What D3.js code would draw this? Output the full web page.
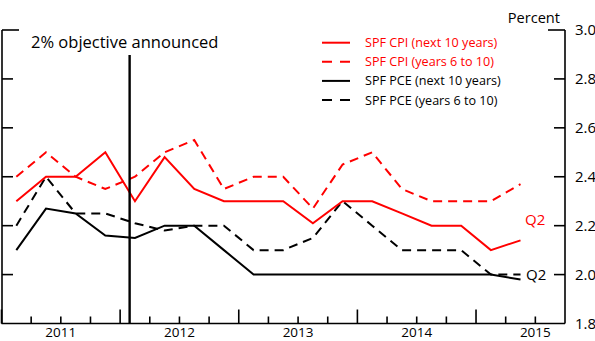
<!DOCTYPE html>
<html>
<head>
<meta charset="utf-8">
<script src="https://cdn.jsdelivr.net/npm/d3@7"></script>
<style>
html,body{margin:0;padding:0;background:#fff;}
svg{display:block;}
text{font-family:"Open Sans","Noto Sans",sans-serif;}
</style>
</head>
<body>
<svg id="chart" width="595" height="341"></svg>
<script>
// ---- data ----
const quarters = ["2011Q1","2011Q2","2011Q3","2011Q4","2012Q1","2012Q2","2012Q3","2012Q4",
  "2013Q1","2013Q2","2013Q3","2013Q4","2014Q1","2014Q2","2014Q3","2014Q4","2015Q1","2015Q2"];
const cpiNext10   = [2.3,2.4,2.4,2.5,2.3,2.48,2.35,2.3,2.3,2.3,2.21,2.3,2.3,2.25,2.2,2.2,2.1,2.14];
const cpi6to10    = [2.4,2.5,2.4,2.35,2.4,2.5,2.55,2.35,2.4,2.4,2.27,2.45,2.5,2.35,2.3,2.3,2.3,2.37];
const pceNext10   = [2.1,2.27,2.25,2.16,2.15,2.2,2.2,2.1,2.0,2.0,2.0,2.0,2.0,2.0,2.0,2.0,2.0,1.98];
const pce6to10    = [2.2,2.4,2.25,2.25,2.21,2.18,2.2,2.2,2.1,2.1,2.15,2.3,2.2,2.1,2.1,2.1,2.0,2.0];
const yTicks = [1.8,2.0,2.2,2.4,2.6,2.8,3.0];
const yearLabels = [2011,2012,2013,2014,2015];
const announcement = 2012.08; // Jan 25, 2012
const series = [
  {name:"SPF PCE (next 10 years)", values:pceNext10, color:"#000", dash:null},
  {name:"SPF PCE (years 6 to 10)", values:pce6to10, color:"#000", dash:"9,6"},
  {name:"SPF CPI (years 6 to 10)", values:cpi6to10, color:"#ff0000", dash:"9,6"},
  {name:"SPF CPI (next 10 years)", values:cpiNext10, color:"#ff0000", dash:null}
];
const legendOrder = [3,2,0,1];

// ---- layout ----
const svg = d3.select("#chart");
const xL = 1.5, xR = 565, yT = 30, yB = 323.5;
const x = d3.scaleLinear().domain([2011, 2015.75]).range([xL, xR]);
const y = d3.scaleLinear().domain([1.8, 3.0]).range([yB, yT]);
const qToNum = q => +q.slice(0,4) + (+q.slice(5) - 0.5) / 4;

// axes lines
const ax = svg.append("g").attr("stroke","#000").attr("stroke-width",1.6).attr("fill","none");
ax.append("line").attr("x1",xL+0.5).attr("x2",xL+0.5).attr("y1",yT).attr("y2",yB);
ax.append("line").attr("x1",xR).attr("x2",xR).attr("y1",yT).attr("y2",yB);
ax.append("line").attr("x1",xL).attr("x2",xR).attr("y1",yB).attr("y2",yB);

// y ticks both sides
yTicks.filter(v=>v>1.8).forEach(v=>{
  const len = v===3.0 ? 17 : 11;
  ax.append("line").attr("x1",xL+0.5).attr("x2",xL+0.5+len).attr("y1",y(v)).attr("y2",y(v));
  ax.append("line").attr("x1",xR-len).attr("x2",xR).attr("y1",y(v)).attr("y2",y(v));
});
svg.append("g").selectAll("text").data(yTicks).join("text")
  .attr("x", xR+10).attr("y", d=>y(d)).attr("dy","0.36em")
  .attr("font-size",15).attr("fill","#000")
  .text(d=>d3.format(".1f")(d));

svg.append("text").attr("x",560).attr("y",23).attr("text-anchor","end")
  .attr("font-size",14.6).text("Percent");

// x ticks (quarters)
const qTicks = d3.range(2011, 2015.75, 0.25);
qTicks.forEach(t=>{
  const big = Math.abs(t - Math.round(t)) < 1e-6;
  ax.append("line").attr("x1",x(t)).attr("x2",x(t)).attr("y1",yB).attr("y2",yB-(big?14:7));
});
svg.append("g").selectAll("text").data(yearLabels).join("text")
  .attr("x", d=>x(d+0.5)).attr("y", 337).attr("text-anchor","middle")
  .attr("font-size",13.5).text(d=>d);

// series lines
const line = d3.line().x((d,i)=>x(qToNum(quarters[i]))).y(d=>y(d));
svg.append("g").selectAll("path").data(series).join("path")
  .attr("d", d=>line(d.values))
  .attr("fill","none").attr("stroke", d=>d.color).attr("stroke-width",2)
  .attr("stroke-dasharray", d=>d.dash);

// announcement line
svg.append("line").attr("x1",x(announcement)).attr("x2",x(announcement))
  .attr("y1",55).attr("y2",yB).attr("stroke","#000").attr("stroke-width",2.4);
svg.append("text").attr("x",31).attr("y",48).attr("font-size",16.5).text("2% objective announced");

// legend
const lg = svg.append("g");
legendOrder.forEach((si,k)=>{
  const s = series[si];
  const cy = 42.7 + k*19.1;
  lg.append("line").attr("x1",322).attr("x2",350).attr("y1",cy).attr("y2",cy)
    .attr("stroke",s.color).attr("stroke-width",2).attr("stroke-dasharray", s.dash ? "10,8" : null);
  lg.append("text").attr("x",365).attr("y",cy).attr("dy","0.36em")
    .attr("font-size",12.6).attr("fill",s.color).text(s.name);
});

// Q2 end labels
svg.append("text").attr("x",525).attr("y",220).attr("dy","0.36em").attr("font-size",15)
  .attr("fill","#ff0000").text("Q2");
svg.append("text").attr("x",526).attr("y",275).attr("dy","0.36em").attr("font-size",15)
  .attr("fill","#000").text("Q2");
</script>
</body>
</html>
